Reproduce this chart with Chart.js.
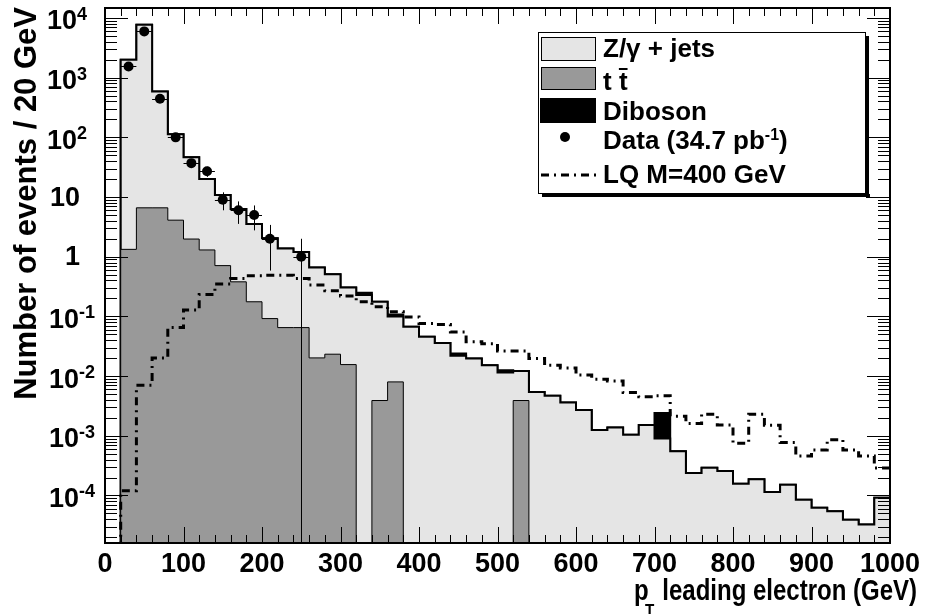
<!DOCTYPE html>
<html>
<head>
<meta charset="utf-8">
<script src="https://cdn.jsdelivr.net/npm/chart.js@4.4.1/dist/chart.umd.min.js"></script>
<style>
  html, body { margin: 0; padding: 0; background: #fff; }
  #wrap { width: 927px; height: 614px; }
</style>
</head>
<body>
<div id="wrap"><canvas id="chart" width="927" height="614"></canvas></div>
<script>
// lower edges of the 20 GeV bins
const binLow = [0, 20, 40, 60, 80, 100, 120, 140, 160, 180,
  200, 220, 240, 260, 280, 300, 320, 340, 360, 380,
  400, 420, 440, 460, 480, 500, 520, 540, 560, 580,
  600, 620, 640, 660, 680, 700, 720, 740, 760, 780,
  800, 820, 840, 860, 880, 900, 920, 940, 960, 980];
const binHigh = 1000;

const zjets = [0, 1999, 7723, 580, 108.9, 44.5, 18.8, 10.09, 5.92, 3.36,
  1.948, 1.315, 1.135, 0.64, 0.487, 0.29, 0.229, 0.172, 0.092, 0.067,
  0.0455, 0.036, 0.022, 0.0197, 0.0152, 0.0115, 0.0083, 0.0054, 0.0047, 0.0036,
  0.0027, 0.00125, 0.00138, 0.00104, 0.00152, 0.0009, 0.00055, 0.000238, 0.000292, 0.000257,
  0.000158, 0.000187, 0.000114, 0.000152, 0.0000851, 0.0000624, 0.0000545, 0.0000393, 0.0000327, 0.0000918];

const ttbar = [0, 1.33, 6.6, 6.6, 4.1, 1.98, 1.3, 0.71, 0.38, 0.176,
  0.092, 0.065, 0.065, 0.0202, 0.0233, 0.0156, 0, 0.0039, 0.008, 0,
  0, 0, 0, 0, 0, 0, 0.0039, 0, 0, 0,
  0, 0, 0, 0, 0, 0, 0, 0, 0, 0,
  0, 0, 0, 0, 0, 0, 0, 0, 0, 0];

const diboson = [0, 0, 0, 0, 0, 0, 0, 0, 0, 0,
  0, 0, 0, 0, 0, 0, 0.02, 0, 0.008, 0,
  0, 0, 0.002, 0, 0, 0.001, 0, 0, 0, 0,
  0, 0, 0, 0, 0, 0.0015, 0, 0, 0, 0,
  0, 0, 0, 0, 0, 0, 0, 0, 0, 0];

const lq400 = [0, 0.00012, 0.007, 0.0202, 0.065, 0.128, 0.234, 0.348, 0.434, 0.48,
  0.49, 0.49, 0.43, 0.335, 0.27, 0.22, 0.176, 0.145, 0.12, 0.098,
  0.076, 0.073, 0.055, 0.0375, 0.035, 0.0264, 0.0264, 0.0197, 0.0152, 0.0137,
  0.0104, 0.0089, 0.0083, 0.0053, 0.0045, 0.0047, 0.00212, 0.0016, 0.0023, 0.00152,
  0.00075, 0.0023, 0.0015, 0.00077, 0.00046, 0.00058, 0.00086, 0.00058, 0.00046, 0.00029];

const dataCenters = [30, 50, 70, 90, 110, 130, 150, 170, 190, 210, 250];
const dataCounts = [1540, 5960, 443, 100, 37, 27, 9, 6, 5, 2, 1];

const yDecades = [4, 3, 2, 1, 0, -1, -2, -3, -4];

const FONT = '"Liberation Sans", Arial, Helvetica, sans-serif';
const Y_MIN = 1.6e-5;
const Y_MAX = 1.47e4;
const FLOOR = 1e-9; // empty bins drop below the axis

const Z_GRAY = "#e5e5e5";
const TT_GRAY = "#999999";
const LQ_DASH = [8, 5, 2, 5];

function stepPoints(values) {
  const pts = binLow.map((x, i) => ({ x, y: values[i] > 0 ? values[i] : FLOOR }));
  const last = values[values.length - 1];
  pts.push({ x: binHigh, y: last > 0 ? last : FLOOR });
  return pts;
}

const zPlusTt = zjets.map((v, i) => v + ttbar[i]);
const allMc = zPlusTt.map((v, i) => v + diboson[i]);

function drawFrame(chart) {
  const { ctx, chartArea: a, scales: { x, y } } = chart;
  ctx.save();
  ctx.strokeStyle = "#000";
  ctx.lineWidth = 1;
  ctx.beginPath();
  for (let v = 0; v <= binHigh; v += 20) {
    const px = Math.round(x.getPixelForValue(v)) + 0.5;
    const len = v % 100 === 0 ? 16 : 8;
    ctx.moveTo(px, a.bottom);
    ctx.lineTo(px, a.bottom - len);
    ctx.moveTo(px, a.top);
    ctx.lineTo(px, a.top + len);
  }
  for (let e = -5; e <= 4; e++) {
    for (let m = 1; m <= 9; m++) {
      const v = m * Math.pow(10, e);
      if (v < Y_MIN || v > Y_MAX) continue;
      const py = Math.round(y.getPixelForValue(v)) + 0.5;
      const len = m === 1 ? 23 : 12;
      ctx.moveTo(a.left, py);
      ctx.lineTo(a.left + len, py);
      ctx.moveTo(a.right, py);
      ctx.lineTo(a.right - len, py);
    }
  }
  ctx.stroke();
  ctx.lineWidth = 2;
  ctx.strokeRect(a.left, a.top, a.right - a.left, a.bottom - a.top);
  ctx.restore();
}

function drawYLabels(chart) {
  const { ctx, scales: { y } } = chart;
  ctx.save();
  ctx.fillStyle = "#000";
  ctx.textBaseline = "middle";
  yDecades.forEach((e) => {
    const py = y.getPixelForValue(Math.pow(10, e));
    ctx.font = `bold 27px ${FONT}`;
    if (e === 0 || e === 1) {
      ctx.textAlign = "right";
      ctx.fillText(e === 0 ? "1" : "10", 80, py + 1);
      return;
    }
    const exp = String(e);
    const baseW = ctx.measureText("10").width;
    ctx.font = `bold 18px ${FONT}`;
    const expW = ctx.measureText(exp).width;
    const right = e > 0 ? 87 : 95;
    ctx.textAlign = "left";
    ctx.fillText(exp, right - expW, py - 3);
    ctx.font = `bold 27px ${FONT}`;
    ctx.fillText("10", right - expW - baseW, py + 4);
  });
  ctx.restore();
}

function drawTitles(chart) {
  const { ctx } = chart;
  ctx.save();
  ctx.fillStyle = "#000";
  ctx.textBaseline = "alphabetic";

  // y title, aligned to the top end of the axis
  ctx.save();
  ctx.translate(36, 7);
  ctx.rotate(-Math.PI / 2);
  ctx.textAlign = "right";
  ctx.font = `bold 31px ${FONT}`;
  ctx.fillText("Number of events / 20 GeV", 0, 0);
  ctx.restore();

  // x title with subscript T
  ctx.save();
  ctx.translate(917, 600);
  ctx.scale(0.8, 1);
  ctx.textAlign = "right";
  ctx.font = `bold 30px ${FONT}`;
  const rest = "leading electron (GeV)";
  ctx.fillText(rest, 0, 0);
  const restW = ctx.measureText(rest).width;
  ctx.font = `bold 19px ${FONT}`;
  ctx.fillText("T", -restW - 10, 17);
  ctx.font = `bold 30px ${FONT}`;
  ctx.fillText("p", -restW - 17, 0);
  ctx.restore();

  ctx.restore();
}

function drawLegend(chart) {
  const { ctx } = chart;
  const L = 538, T = 32, R = 866, B = 194;
  ctx.save();
  ctx.fillStyle = "#000";
  ctx.fillRect(L + 4, B, R - L, 3);
  ctx.fillRect(R, T + 4, 3, B - T);
  ctx.fillStyle = "#fff";
  ctx.fillRect(L, T, R - L, B - T);
  ctx.strokeStyle = "#000";
  ctx.lineWidth = 1;
  ctx.strokeRect(L + 0.5, T + 0.5, R - L - 1, B - T - 1);

  // swatches
  ctx.fillStyle = Z_GRAY;
  ctx.fillRect(541, 37, 54, 23);
  ctx.strokeRect(541.5, 37.5, 54, 23);
  ctx.fillStyle = TT_GRAY;
  ctx.fillRect(541, 67, 54, 22);
  ctx.strokeRect(541.5, 67.5, 54, 22);
  ctx.fillStyle = "#000";
  ctx.fillRect(540, 98, 56, 25);
  ctx.beginPath();
  ctx.arc(565, 137, 5, 0, Math.PI * 2);
  ctx.fill();
  ctx.lineWidth = 3;
  ctx.setLineDash(LQ_DASH);
  ctx.beginPath();
  ctx.moveTo(541, 175);
  ctx.lineTo(596, 175);
  ctx.stroke();
  ctx.setLineDash([]);

  // labels
  ctx.textAlign = "left";
  ctx.textBaseline = "alphabetic";
  ctx.font = `bold 26px ${FONT}`;
  ctx.fillText("Z/\u03b3 + jets", 603, 57);
  ctx.fillText("t t", 603, 90);
  const tW = ctx.measureText("t ").width;
  const t2W = ctx.measureText("t").width;
  ctx.lineWidth = 2;
  ctx.beginPath();
  ctx.moveTo(603 + tW, 69);
  ctx.lineTo(603 + tW + t2W, 69);
  ctx.stroke();
  ctx.fillText("Diboson", 603, 120);
  const dataTxt = "Data (34.7 pb";
  ctx.fillText(dataTxt, 603, 149);
  let dx = 603 + ctx.measureText(dataTxt).width;
  ctx.font = `bold 16px ${FONT}`;
  ctx.fillText("-1", dx, 140);
  dx += ctx.measureText("-1").width;
  ctx.font = `bold 26px ${FONT}`;
  ctx.fillText(")", dx, 149);
  ctx.fillText("LQ M=400 GeV", 603, 183);
  ctx.restore();
}

const errorBars = {
  id: "errorBars",
  afterDatasetsDraw(chart) {
    const { ctx, chartArea: a, scales: { x, y } } = chart;
    ctx.save();
    ctx.strokeStyle = "#000";
    ctx.lineWidth = 1;
    ctx.beginPath();
    dataCenters.forEach((c, i) => {
      const n = dataCounts[i];
      const err = Math.sqrt(n);
      const px = Math.round(x.getPixelForValue(c)) + 0.5;
      const py = Math.round(y.getPixelForValue(n)) + 0.5;
      const top = y.getPixelForValue(n + err);
      const bottom = n - err > 0 ? y.getPixelForValue(n - err) : a.bottom;
      ctx.moveTo(px, top);
      ctx.lineTo(px, bottom);
      ctx.moveTo(x.getPixelForValue(c - 10), py);
      ctx.lineTo(x.getPixelForValue(c + 10), py);
    });
    ctx.stroke();
    ctx.restore();
  }
};

const rootStyle = {
  id: "rootStyle",
  afterDraw(chart) {
    drawFrame(chart);
    drawYLabels(chart);
    drawTitles(chart);
    drawLegend(chart);
  }
};

const histLine = {
  type: "line",
  stepped: true,
  tension: 0,
  pointRadius: 0,
  fill: "start"
};

new Chart(document.getElementById("chart"), {
  type: "line",
  data: {
    datasets: [
      {
        label: "Data (34.7 pb-1)",
        data: dataCenters.map((c, i) => ({ x: c, y: dataCounts[i] })),
        showLine: false,
        pointRadius: 5,
        pointBackgroundColor: "#000",
        pointBorderColor: "#000",
        pointBorderWidth: 0,
        order: 0
      },
      {
        ...histLine,
        label: "LQ M=400 GeV",
        data: stepPoints(lq400),
        fill: false,
        borderColor: "#000",
        borderWidth: 3,
        borderDash: LQ_DASH,
        order: 1
      },
      {
        ...histLine,
        label: "t tbar",
        data: stepPoints(ttbar),
        backgroundColor: TT_GRAY,
        borderColor: "#000",
        borderWidth: 1,
        order: 2
      },
      {
        ...histLine,
        label: "Z/gamma + jets",
        data: stepPoints(zPlusTt),
        backgroundColor: Z_GRAY,
        borderColor: "#000",
        borderWidth: 2,
        order: 3
      },
      {
        ...histLine,
        label: "Diboson",
        data: stepPoints(allMc),
        backgroundColor: "#000",
        borderColor: "#000",
        borderWidth: 2,
        order: 4
      }
    ]
  },
  options: {
    responsive: false,
    animation: false,
    events: [],
    layout: { padding: { top: 8, right: 37, left: 0, bottom: 0 } },
    plugins: {
      legend: { display: false },
      tooltip: { enabled: false }
    },
    scales: {
      x: {
        type: "linear",
        min: 0,
        max: binHigh,
        ticks: {
          stepSize: 100,
          autoSkip: false,
          maxRotation: 0,
          padding: -3,
          color: "#000",
          font: { family: FONT, size: 27, weight: "bold" },
          callback: (value) => String(value)
        },
        grid: { display: false },
        border: { display: false },
        afterFit(scale) { scale.height = 71; }
      },
      y: {
        type: "logarithmic",
        min: Y_MIN,
        max: Y_MAX,
        ticks: { display: false },
        grid: { display: false },
        border: { display: false },
        afterFit(scale) { scale.width = 105; }
      }
    }
  },
  plugins: [errorBars, rootStyle]
});
</script>
</body>
</html>
